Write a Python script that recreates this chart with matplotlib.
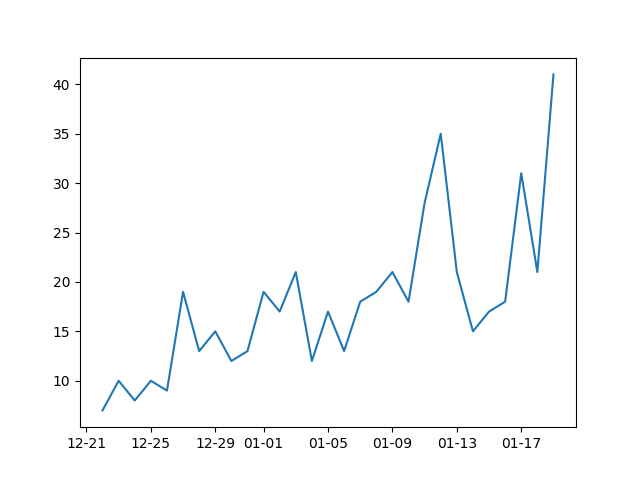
import matplotlib
matplotlib.use("Agg")
import matplotlib.pyplot as plt
import matplotlib.dates as mdates
import pandas as pd

dates = pd.date_range("2019-12-22", "2020-01-19", freq="D")
values = [7, 10, 8, 10, 9, 19, 13, 15, 12, 13, 19, 17, 21, 12, 17, 13, 18, 19,
          21, 18, 28, 35, 21, 15, 17, 18, 31, 21, 41]

fig, ax = plt.subplots(figsize=(6.4, 4.8), dpi=100)
ax.plot(dates, values)
ax.xaxis.set_major_locator(mdates.DayLocator(bymonthday=[1, 5, 9, 13, 17, 21, 25, 29]))
ax.xaxis.set_major_formatter(mdates.DateFormatter("%m-%d"))
fig.savefig("out.png")
